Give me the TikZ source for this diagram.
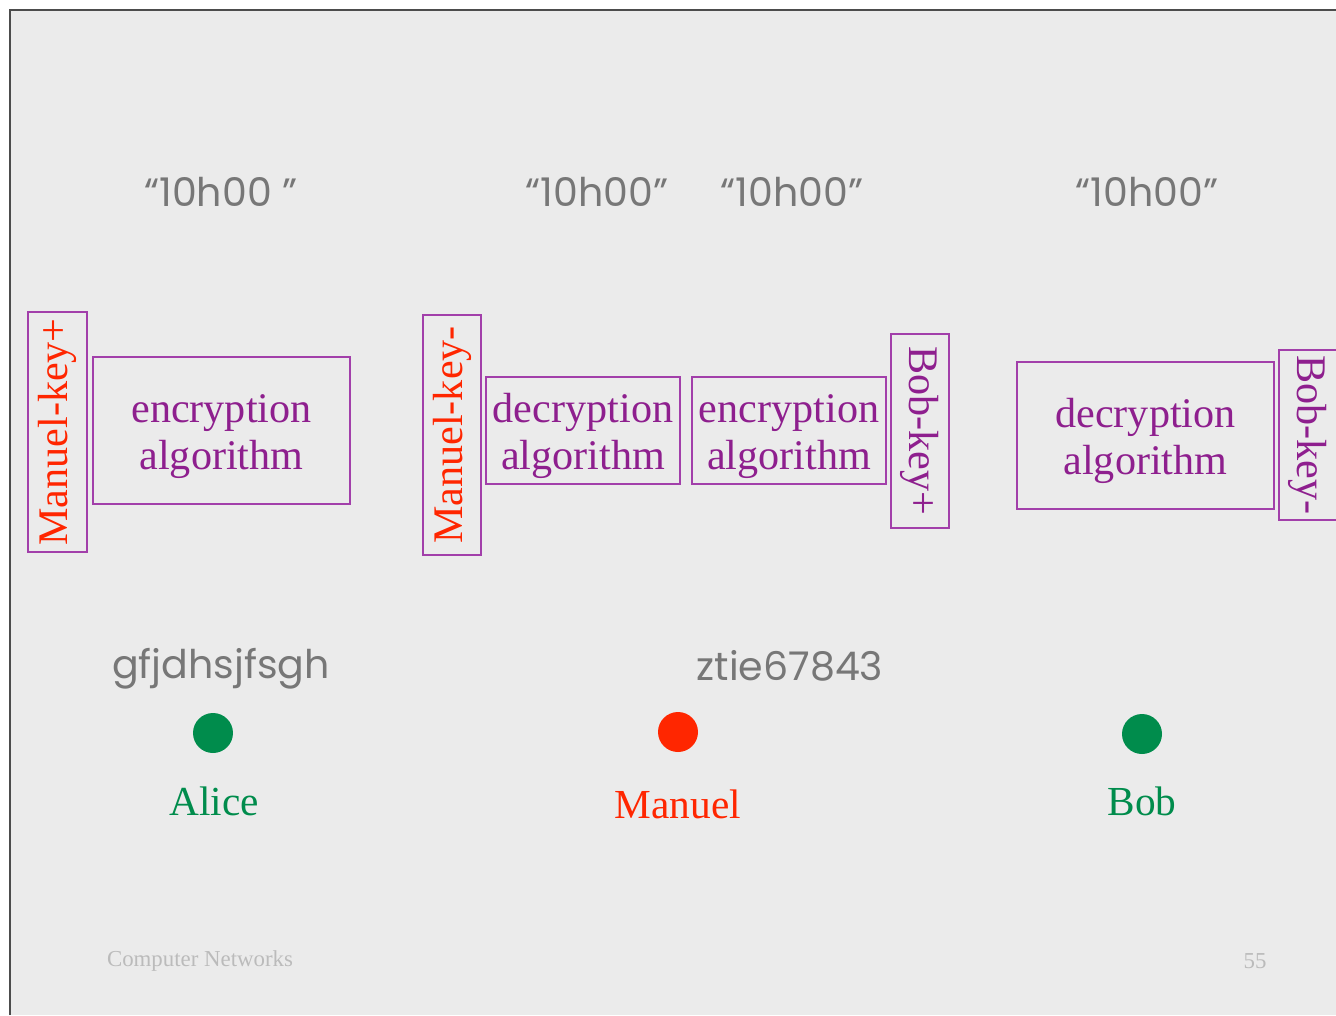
\documentclass[tikz,border=0pt]{standalone}
\usepackage{fontspec}
\setmainfont{Liberation Serif}
\newfontfamily\handfont{Poppins}
\usetikzlibrary{positioning}

\definecolor{slidebg}{HTML}{EBEBEB}
\definecolor{boxpurple}{HTML}{A23FAA}
\definecolor{algpurple}{HTML}{8E1F8E}
\definecolor{keyred}{HTML}{FF2600}
\definecolor{persongreen}{HTML}{008C4C}
\definecolor{plaingray}{HTML}{777777}
\definecolor{footgray}{HTML}{BBBBBB}

\newcommand{\twolines}[2]{\rule{0pt}{22.5pt}#1\\#2}

\begin{document}
\begin{tikzpicture}[x=0.02cm,y=-0.02cm,
	algbox/.style={draw=boxpurple,line width=1pt,text=algpurple,align=center,inner sep=0pt,
		font=\fontsize{24}{27}\selectfont},
	bigalg/.style={algbox,minimum width=5.14cm,minimum height=2.94cm},
	smallalg/.style={algbox,minimum width=3.88cm,minimum height=2.14cm},
	keybox/.style={draw=boxpurple,line width=1pt,inner sep=0pt,minimum height=1.17cm,
		font=\fontsize{24}{27}\selectfont},
	timetext/.style={text=plaingray,font=\handfont\fontsize{22.5}{26}\selectfont},
	person/.style={circle,inner sep=0pt,minimum size=0.8cm},
	who/.style={font=\fontsize{23.5}{27}\selectfont},
	foot/.style={text=footgray,font=\fontsize{13}{15}\selectfont}]
\useasboundingbox (0,0) rectangle (1336,1015);
\fill[slidebg] (10,10) rectangle (1336,1015);
\draw[line width=0.8pt,black!70] (10,1015) -- (10,10) -- (1336,10);

\node[timetext] (t1) at (221,192) {“10h00 ”};
\node[timetext] (t2) at (597,192) {“10h00”};
\node[timetext] (t3) at (792,192) {“10h00”};
\node[timetext] (t4) at (1147,192) {“10h00”};

\node[keybox,rotate=90,text=keyred,minimum width=4.8cm] (mkplus) at (57.5,432) {Manuel-key+};
\node[bigalg] (enc1) at (221.5,430.5) {\twolines{encryption}{algorithm}};
\node[keybox,rotate=90,text=keyred,minimum width=4.8cm] (mkminus) at (452,435) {Manuel-key-};
\node[smallalg] (dec1) at (583,430.5) {\twolines{decryption}{algorithm}};
\node[smallalg] (enc2) at (789,430.5) {\twolines{encryption}{algorithm}};
\node[keybox,rotate=-90,text=algpurple,minimum width=3.88cm] (bkplus) at (920,431) {Bob-key+};
\node[bigalg] (dec2) at (1145.5,435.5) {\twolines{decryption}{algorithm}};
\node[keybox,rotate=-90,text=algpurple,minimum width=3.4cm] (bkminus) at (1308,435) {Bob-key-};

\node[timetext] (c1) at (221,669) {gfjdhsjfsgh};
\node[timetext] (c2) at (790,666) {ztie67843};

\node[person,fill=persongreen] (alice) at (213,733) {};
\node[person,fill=keyred] (manuel) at (678,732) {};
\node[person,fill=persongreen] (bob) at (1142,734) {};
\node[who,text=persongreen] (alicename) at (214,801) {Alice};
\node[who,text=keyred] (manuelname) at (678,804) {Manuel};
\node[who,text=persongreen] (bobname) at (1142,801) {Bob};

\node[foot] (course) at (200,961) {Computer Networks};
\node[foot] (page) at (1255,961) {55};
\end{tikzpicture}
\end{document}
